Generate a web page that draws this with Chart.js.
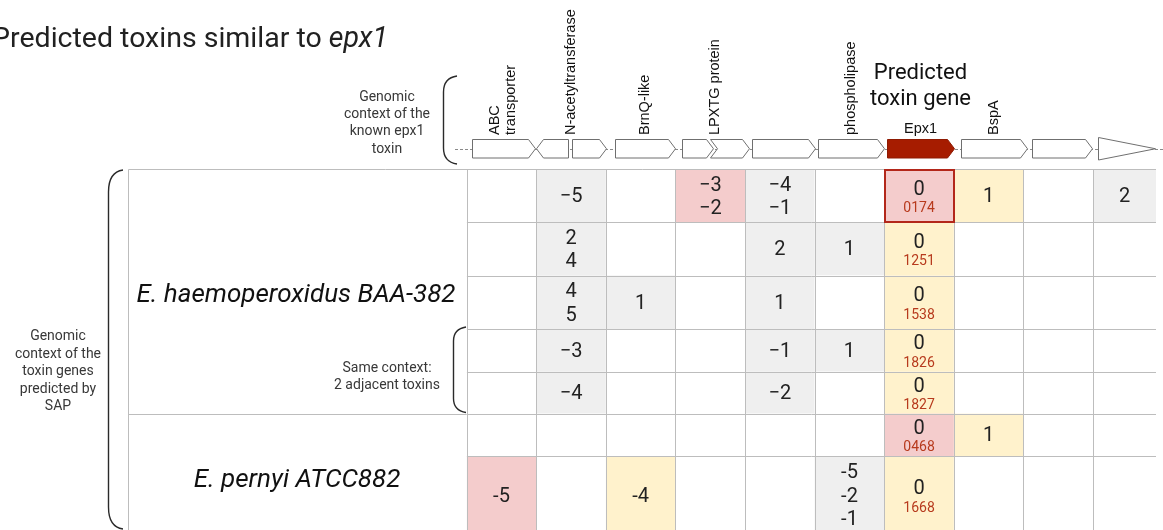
<!DOCTYPE html>
<html>
<head>
<meta charset="utf-8">
<script src="https://cdn.jsdelivr.net/npm/chart.js@4.4.1/dist/chart.umd.min.js"></script>
<style>
  html, body { margin: 0; padding: 0; background: #ffffff; overflow: hidden; }
  #c { display: block; }
</style>
</head>
<body>
<canvas id="c" width="1163" height="530"></canvas>
<script>
// ---- Data -------------------------------------------------------------

// Genes of the known epx1 locus, in column units of the x scale (start -> end, so
// a start larger than the end is a gene on the reverse strand).
const geneStart = [0.07, 1.46, 1.52, 2.13, 3.09, 3.49, 4.10, 5.05, 6.04, 7.10, 8.12, 9.07];
const geneEnd   = [0.98, 1.00, 2.00, 2.99, 3.54, 4.05, 5.00, 5.99, 7.00, 8.05, 8.99, 9.89];
const geneType  = ['cds', 'cds', 'cds', 'cds', 'cds', 'cds', 'cds', 'cds', 'toxin', 'cds', 'cds', 'partial'];

// Annotation names and the genes each one covers
const geneLabels = [['ABC', 'transporter'], ['N-acetyltransferase'], ['BrnQ-like'], ['LPXTG protein'],
                    ['phospholipase'], ['Epx1'], ['BspA']];
const geneLabelGenes = [[0], [1, 2], [3], [4, 5], [7], [8], [9]];

// Predicted toxin loci (one row each) and the organism each belongs to
const organisms = ['E. haemoperoxidus BAA-382', 'E. pernyi ATCC882'];
const toxinIds = ['0174', '1251', '1538', '1826', '1827', '0468', '1668'];
const rowOrganism = [0, 0, 0, 0, 0, 1, 1];

// Position of each homologous gene relative to the predicted toxin, per column
const positions = [
  [[], [-5], [], [-3, -2], [-4, -1], [], [0], [1], [], [2]],
  [[], [2, 4], [], [], [2], [1], [0], [], [], []],
  [[], [4, 5], [1], [], [1], [], [0], [], [], []],
  [[], [-3], [], [], [-1], [1], [0], [], [], []],
  [[], [-4], [], [], [-2], [], [0], [], [], []],
  [[], [], [], [], [], [], [0], [1], [], []],
  [[-5], [], [-4], [], [], [-5, -2, -1], [0], [], [], []]
];

// Match class per cell: 0 none, 1 other homolog, 2 reference-like, 3 similar
const matchClass = [
  [0, 1, 0, 2, 1, 0, 2, 3, 0, 1],
  [0, 1, 0, 0, 1, 1, 3, 0, 0, 0],
  [0, 1, 1, 0, 1, 0, 3, 0, 0, 0],
  [0, 1, 0, 0, 1, 1, 3, 0, 0, 0],
  [0, 1, 0, 0, 1, 0, 3, 0, 0, 0],
  [0, 0, 0, 0, 0, 0, 2, 3, 0, 0],
  [2, 0, 3, 0, 0, 1, 3, 0, 0, 0]
];
const toxinColumn = 6;

// ---- Layout & style -----------------------------------------------------

const ROW_SPAN = [53, 53.2, 53.5, 42.7, 42, 42.3, 78];   // pixel height of each row
const PALETTE = ['#ffffff', '#efefef', '#f4cccc', '#fff2cc'];
const GRID = '#bdbdbd';
const INK = '#222222';
const SOFT_INK = '#383838';
const TOXIN_RED = '#a61c00';
const ID_RED = '#b73a1d';
const FRAME_LEFT = 127.7;

const rowEdges = [0];
ROW_SPAN.forEach(h => rowEdges.push(rowEdges[rowEdges.length - 1] + h));

function fmt(v, org) {
  const s = String(Math.abs(v));
  if (v < 0) return (org === 0 ? '\u2212' : '-') + s;
  return s;
}

// One invisible point per filled cell, at the cell centre
const cellPoints = [];
positions.forEach((row, r) => row.forEach((vals, c) => {
  if (vals.length) cellPoints.push({ x: c + 0.5, y: (rowEdges[r] + rowEdges[r + 1]) / 2 });
}));

const crisp = v => Math.round(v) + 0.5;

// ---- Grid of genomic contexts -------------------------------------------

const contextGrid = {
  id: 'contextGrid',
  beforeDatasetsDraw(chart) {
    const { ctx, chartArea: a, scales: { x, y } } = chart;
    const nCols = positions[0].length;
    ctx.save();
    ctx.beginPath();
    ctx.rect(a.left, a.top, a.right - a.left, 600);
    ctx.clip();

    // cell fills
    matchClass.forEach((row, r) => row.forEach((k, c) => {
      const x0 = x.getPixelForValue(c), x1 = x.getPixelForValue(c + 1);
      const y0 = y.getPixelForValue(rowEdges[r]), y1 = y.getPixelForValue(rowEdges[r + 1]);
      ctx.fillStyle = PALETTE[k];
      ctx.fillRect(x0, y0, x1 - x0, y1 - y0);
    }));

    // grid lines
    ctx.strokeStyle = GRID;
    ctx.lineWidth = 1;
    for (let c = 0; c <= nCols; c++) {
      const px = crisp(Math.min(x.getPixelForValue(c), a.right - 0.5));
      ctx.beginPath(); ctx.moveTo(px, a.top); ctx.lineTo(px, 600); ctx.stroke();
    }
    for (let r = 1; r < rowEdges.length; r++) {
      const py = crisp(y.getPixelForValue(rowEdges[r]));
      ctx.beginPath(); ctx.moveTo(a.left, py); ctx.lineTo(a.right, py); ctx.stroke();
    }
    ctx.restore();

    // outer frame reaching over the organism column
    ctx.save();
    ctx.strokeStyle = GRID;
    ctx.lineWidth = 1;
    const top = crisp(a.top);
    ctx.beginPath(); ctx.moveTo(crisp(FRAME_LEFT), top); ctx.lineTo(a.right, top); ctx.stroke();
    ctx.beginPath(); ctx.moveTo(crisp(FRAME_LEFT), top); ctx.lineTo(crisp(FRAME_LEFT), 530); ctx.stroke();
    for (let r = 1; r < rowOrganism.length; r++) {
      if (rowOrganism[r] !== rowOrganism[r - 1]) {
        const py = crisp(y.getPixelForValue(rowEdges[r]));
        ctx.beginPath(); ctx.moveTo(crisp(FRAME_LEFT), py); ctx.lineTo(a.left, py); ctx.stroke();
      }
    }
    ctx.restore();

    // reference toxin outlined
    ctx.save();
    ctx.strokeStyle = '#b3271a';
    ctx.lineWidth = 2;
    const hx0 = x.getPixelForValue(toxinColumn), hx1 = x.getPixelForValue(toxinColumn + 1);
    const hy0 = y.getPixelForValue(rowEdges[0]), hy1 = y.getPixelForValue(rowEdges[1]);
    ctx.strokeRect(Math.round(hx0) + 1, Math.round(hy0) + 1, Math.round(hx1 - hx0) - 1, Math.round(hy1 - hy0) - 1);
    ctx.restore();

    // cell labels
    ctx.save();
    ctx.textAlign = 'center';
    ctx.textBaseline = 'middle';
    positions.forEach((row, r) => row.forEach((vals, c) => {
      if (!vals.length) return;
      const cx0 = x.getPixelForValue(c);
      const cx1 = Math.min(x.getPixelForValue(c + 1), a.right);
      const cx = (cx0 + cx1) / 2;
      const cy = y.getPixelForValue((rowEdges[r] + rowEdges[r + 1]) / 2);
      const org = rowOrganism[r];
      if (c === toxinColumn) {
        ctx.fillStyle = INK;
        ctx.font = '20px Roboto';
        ctx.fillText(fmt(vals[0], org), cx, cy - 6);
        ctx.fillStyle = ID_RED;
        ctx.font = '14px Roboto';
        ctx.fillText(toxinIds[r], cx, cy + 13);
        return;
      }
      ctx.fillStyle = INK;
      ctx.font = '20px Roboto';
      const step = 23.5;
      const start = cy + 1.5 - step * (vals.length - 1) / 2;
      vals.forEach((v, i) => ctx.fillText(fmt(v, org), cx, start + i * step));
    }));
    ctx.restore();
  }
};

// ---- Locus header, brackets and captions ---------------------------------

function genePath(ctx, x0, x1, top, bot, notched) {
  const dir = x1 > x0 ? 1 : -1;
  const head = 7 * dir;
  const mid = (top + bot) / 2;
  ctx.beginPath();
  ctx.moveTo(x0, top);
  ctx.lineTo(x1 - head, top);
  ctx.lineTo(x1, mid);
  ctx.lineTo(x1 - head, bot);
  ctx.lineTo(x0, bot);
  if (notched) ctx.lineTo(x0 + head, mid);
  ctx.closePath();
}

function bracket(ctx, xTip, xSpine, yTop, yBot, curve) {
  ctx.beginPath();
  ctx.moveTo(xTip, yTop);
  ctx.quadraticCurveTo(xSpine, yTop + 2, xSpine, yTop + curve);
  ctx.lineTo(xSpine, yBot - curve);
  ctx.quadraticCurveTo(xSpine, yBot - 2, xTip, yBot);
  ctx.stroke();
}

function centredLines(ctx, lines, cx, firstY, step) {
  lines.forEach((t, i) => ctx.fillText(t, cx, firstY + i * step));
}

const locusHeader = {
  id: 'locusHeader',
  afterDraw(chart) {
    const { ctx, scales: { x } } = chart;
    const top = 139.5, bot = 158, mid = (top + bot) / 2;

    ctx.save();
    // backbone
    ctx.strokeStyle = '#8a8a8a';
    ctx.lineWidth = 1;
    ctx.setLineDash([3, 2]);
    ctx.beginPath(); ctx.moveTo(455, crisp(mid)); ctx.lineTo(1163, crisp(mid)); ctx.stroke();
    ctx.setLineDash([]);

    // genes
    geneStart.forEach((s, i) => {
      const x0 = crisp(x.getPixelForValue(s));
      const x1 = crisp(x.getPixelForValue(geneEnd[i]));
      const lo = Math.min(s, geneEnd[i]);
      const notched = i > 0 && lo < Math.max(geneStart[i - 1], geneEnd[i - 1]) - 0.02;
      if (geneType[i] === 'partial') {
        ctx.beginPath();
        ctx.moveTo(x0, top - 2); ctx.lineTo(x1, mid); ctx.lineTo(x0, bot + 2); ctx.closePath();
      } else {
        genePath(ctx, x0, x1, top, bot, notched);
      }
      ctx.fillStyle = geneType[i] === 'toxin' ? TOXIN_RED : '#ffffff';
      ctx.strokeStyle = geneType[i] === 'toxin' ? '#8e1a02' : '#6f6f6f';
      ctx.fill();
      ctx.stroke();
    });

    // gene names
    ctx.fillStyle = '#111111';
    ctx.font = '14.5px "Liberation Sans", Arial, sans-serif';
    geneLabels.forEach((lines, i) => {
      const g = geneLabelGenes[i];
      const lo = Math.min(...g.map(k => Math.min(geneStart[k], geneEnd[k])));
      const hi = Math.max(...g.map(k => Math.max(geneStart[k], geneEnd[k])));
      const cx = x.getPixelForValue((lo + hi) / 2);
      if (geneType[g[0]] === 'toxin') {
        ctx.textAlign = 'center';
        ctx.textBaseline = 'alphabetic';
        ctx.fillText(lines[0], cx, 133);
        return;
      }
      ctx.save();
      ctx.translate(cx, 135);
      ctx.rotate(-Math.PI / 2);
      ctx.textAlign = 'left';
      ctx.textBaseline = 'middle';
      lines.forEach((t, j) => ctx.fillText(t, 0, (j - (lines.length - 1) / 2) * 16));
      ctx.restore();
    });

    // predicted toxin gene caption
    ctx.fillStyle = '#111111';
    ctx.textAlign = 'center';
    ctx.textBaseline = 'alphabetic';
    ctx.font = '22px Roboto';
    const tx = x.getPixelForValue((geneStart[8] + geneEnd[8]) / 2);
    ctx.fillText('Predicted', tx, 78.5);
    ctx.fillText('toxin gene', tx, 105);

    // title
    ctx.fillStyle = '#212121';
    ctx.textAlign = 'left';
    const part1 = 'Predicted toxins similar to ';
    ctx.font = '28.5px Roboto';
    const w1 = ctx.measureText(part1).width;
    ctx.font = 'italic 28.5px Roboto';
    const w2 = ctx.measureText('epx1').width;
    const tStart = 388 - w1 - w2;
    ctx.font = '28.5px Roboto';
    ctx.fillText(part1, tStart, 46.5);
    ctx.font = 'italic 28.5px Roboto';
    ctx.fillText('epx1', tStart + w1, 46.5);

    // small captions
    ctx.fillStyle = SOFT_INK;
    ctx.font = '14px Roboto';
    ctx.textBaseline = 'middle';
    ctx.textAlign = 'center';
    centredLines(ctx, ['Genomic', 'context of the', 'known epx1', 'toxin'], 387, 97.5, 17.2);
    centredLines(ctx, ['Genomic', 'context of the', 'toxin genes', 'predicted by', 'SAP'], 58, 336.5, 17.6);
    centredLines(ctx, ['Same context:', '2 adjacent toxins'], 387, 368.5, 17);

    // organism names
    ctx.fillStyle = '#111111';
    ctx.font = 'italic 26px Roboto';
    ctx.textBaseline = 'alphabetic';
    ctx.fillText(organisms[0], 296, 301.5);
    ctx.fillText(organisms[1], 297, 486.5);

    // brackets
    ctx.strokeStyle = '#2a2a2a';
    ctx.lineWidth = 1.4;
    bracket(ctx, 457, 443.5, 76, 164, 16);
    bracket(ctx, 123, 108.5, 170, 529, 22);
    bracket(ctx, 466, 453.5, 327, 412.5, 14);
    ctx.restore();
  }
};

new Chart(document.getElementById('c'), {
  type: 'scatter',
  data: { datasets: [{ data: cellPoints, pointRadius: 0, pointHoverRadius: 0 }] },
  options: {
    responsive: false,
    animation: false,
    devicePixelRatio: 1,
    events: [],
    layout: { padding: { left: 466.7, top: 169.3, right: 7, bottom: 0 } },
    scales: {
      x: { type: 'linear', display: false, min: 0, max: 9.904 },
      y: { type: 'linear', display: false, min: 0, max: 360.7, reverse: true }
    },
    plugins: { legend: { display: false }, tooltip: { enabled: false }, title: { display: false } }
  },
  plugins: [contextGrid, locusHeader]
});
</script>
</body>
</html>
